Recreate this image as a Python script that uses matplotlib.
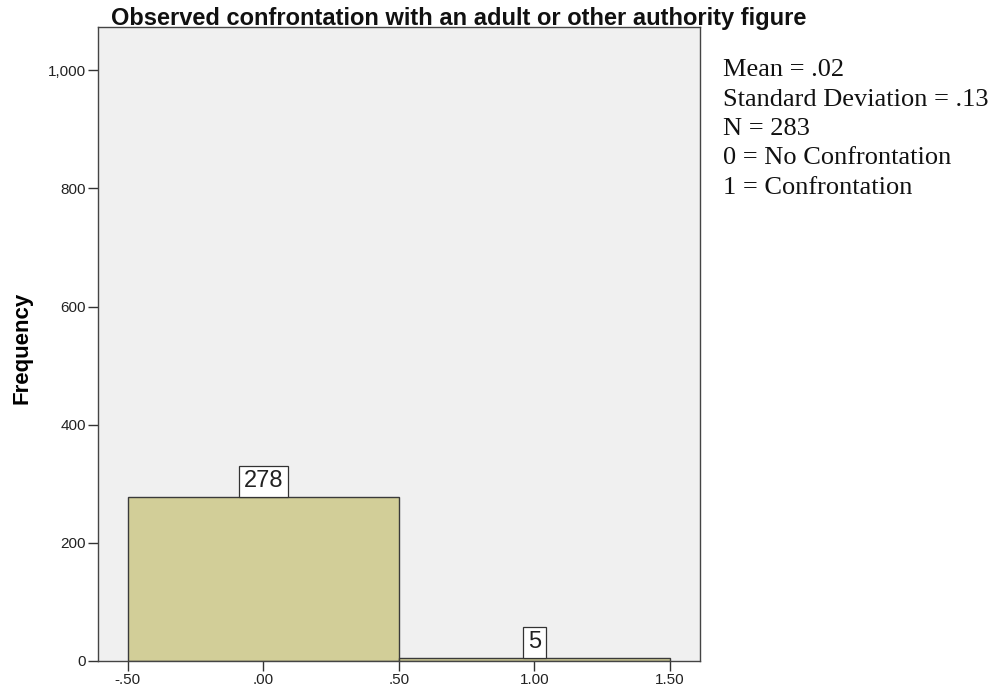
import matplotlib
matplotlib.use("Agg")
import matplotlib.pyplot as plt
from matplotlib.ticker import FuncFormatter

# Data
bin_edges = [-0.5, 0.5, 1.5]
counts = [278, 5]
x_ticks = [-0.5, 0.0, 0.5, 1.0, 1.5]
x_tick_labels = ["-.50", ".00", ".50", "1.00", "1.50"]
y_ticks = [0, 200, 400, 600, 800, 1000]
title = "Observed confrontation with an adult or other authority figure"
stats_lines = ["Mean = .02", "Standard Deviation = .13", "N = 283",
               "0 = No Confrontation", "1 = Confrontation"]

fig = plt.figure(figsize=(9.94, 6.93), dpi=100)
ax = fig.add_axes([0.0986, 0.0462, 0.6055, 0.9145])
ax.set_facecolor("#F0F0F0")

lefts = bin_edges[:-1]
widths = [b - a for a, b in zip(bin_edges[:-1], bin_edges[1:])]
ax.bar(lefts, counts, width=widths, align="edge", color="#D2CE98",
       edgecolor="#3A3A3A", linewidth=1.0, zorder=2)

for l, w, c in zip(lefts, widths, counts):
    ax.annotate(str(c), xy=(l + w / 2, c), xytext=(0, 3.3), textcoords="offset points",
                ha="center", va="bottom", fontsize=17, family="Liberation Sans",
                color="#222222",
                bbox=dict(boxstyle="square,pad=0.19", fc="white", ec="#333333", lw=0.9),
                zorder=3)

ax.set_xlim(-0.61, 1.61)
ax.set_ylim(0, 1073)
ax.set_xticks(x_ticks)
ax.set_xticklabels(x_tick_labels)
ax.set_yticks(y_ticks)
ax.yaxis.set_major_formatter(FuncFormatter(lambda v, p: f"{int(v):,}"))
ax.tick_params(axis="both", direction="out", length=7, width=1.0, color="#333333",
               labelsize=11, labelcolor="#222222", pad=1.5)
for lab in ax.get_xticklabels() + ax.get_yticklabels():
    lab.set_family("Liberation Sans")
for s in ax.spines.values():
    s.set_color("#444444")
    s.set_linewidth(1.0)

ax.set_ylabel("Frequency", fontsize=16, fontweight="bold", family="Liberation Sans",
              va="center")
ax.yaxis.set_label_coords((22 - 98) / 602, (661 - 348) / 634)
fig.text(111 / 994, 1 - 25 / 693, title, fontsize=17, family="Liberation Sans",
         ha="left", va="baseline", color="#111111", fontweight="bold")

for i, line in enumerate(stats_lines):
    fig.text(723 / 994, 1 - (70 + i * 29.5) / 693, line, fontsize=19,
             family="Liberation Serif", ha="left", va="center", color="#111111")

fig.savefig("out.png", dpi=100)
